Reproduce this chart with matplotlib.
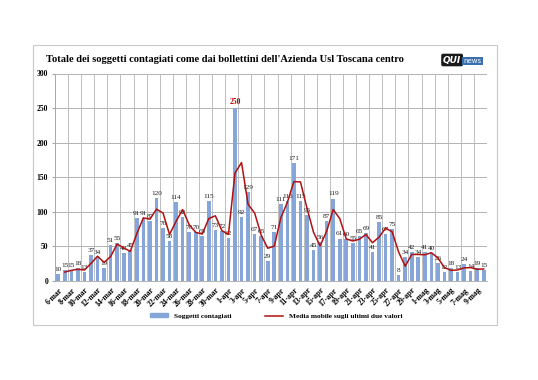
#!/usr/bin/env python3
# -*- coding: utf-8 -*-

import numpy as np
import matplotlib
matplotlib.use('Agg')
from matplotlib import pyplot as plt
from matplotlib.patches import Rectangle
from matplotlib.lines import Line2D

# daily new cases, 6-mar .. 10-mag
cases = [10, 15, 15, 18, 13, 37, 34, 19, 51, 55,
         40, 45, 91, 91, 87, 120, 76, 58, 114, 92,
         70, 70, 65, 115, 73, 72, 62, 250, 92, 129,
         67, 65, 29, 71, 111, 116, 171, 115, 95, 45,
         56, 87, 119, 61, 60, 55, 65, 69, 41, 85,
         67, 75, 8, 34, 42, 34, 41, 40, 26, 12,
         18, 13, 24, 14, 19, 15]

tick_labels = ['6-mar', '8-mar', '10-mar', '12-mar', '14-mar', '16-mar', '18-mar',
               '20-mar', '22-mar', '24-mar', '26-mar', '28-mar', '30-mar',
               '1-apr', '3-apr', '5-apr', '7-apr', '9-apr', '11-apr', '13-apr',
               '15-apr', '17-apr', '19-apr', '21-apr', '23-apr', '25-apr',
               '27-apr', '29-apr', '1-mag', '3-mag', '5-mag', '7-mag', '9-mag']

title = "Totale dei soggetti contagiati come dai bollettini dell'Azienda Usl Toscana centro"

serif = 'Liberation Serif'
bar_color = '#86A6DA'
line_color = '#B01010'
grid_color = '#A6A6A6'

vals = np.array(cases, dtype=float)
x = np.arange(len(vals))
# trendline: moving average over the last two values
ma = (vals[1:] + vals[:-1]) / 2.0

fig = plt.figure(figsize=(5.38, 3.80), dpi=100)

# outer chart frame
fig.patches.append(Rectangle((33 / 538, 1 - 325 / 380), 464 / 538, 280 / 380,
                             transform=fig.transFigure, fill=False,
                             edgecolor='#C8C8C8', linewidth=0.8))

ax = fig.add_axes([55 / 538, 1 - 280.7 / 380, 432 / 538, 207.2 / 380])

ax.bar(x, vals, width=0.55, color=bar_color, zorder=2)
ax.plot(x[1:], ma, color=line_color, linewidth=1.1, zorder=4)

for xi, v in zip(x, cases):
    if v == max(cases):
        ax.text(xi, v + 3, str(v), ha='center', va='bottom', fontsize=5.5,
                family=serif, fontweight='bold', color='#C00000', zorder=3)
    else:
        ax.text(xi, v + 3, str(v), ha='center', va='bottom', fontsize=5.2,
                family=serif, color='#202020', zorder=3)

ax.set_xlim(-0.5, len(vals) - 0.5)
ax.set_ylim(0, 300)
ax.set_yticks(range(0, 301, 50))
ax.set_yticklabels([str(t) for t in range(0, 301, 50)], family=serif,
                   fontweight='bold', fontsize=5.5)

ax.set_xticks(x[::2])
ax.set_xticklabels(tick_labels, rotation=45, ha='right', va='top',
                   rotation_mode='anchor', family=serif, fontweight='bold',
                   fontsize=5.6)
ax.tick_params(axis='x', length=0, pad=4)
ax.tick_params(axis='y', length=2, pad=3, color=grid_color)

# gridlines
for yv in range(50, 301, 50):
    ax.axhline(yv, color=grid_color, linewidth=0.6, zorder=1)
for xb in np.arange(-0.5, len(vals), 2):
    ax.axvline(xb, color='#B4B4B4', linewidth=0.6, zorder=1)

for s in ['top', 'right']:
    ax.spines[s].set_visible(False)
ax.spines['left'].set_color(grid_color)
ax.spines['bottom'].set_color(grid_color)
ax.spines['left'].set_linewidth(0.6)
ax.spines['bottom'].set_linewidth(0.6)

fig.text(46 / 538, 1 - 60 / 380, title, family=serif, fontweight='bold',
         fontsize=7.6, va='center', ha='left')

# logo
fig.text(443 / 538, 1 - 60 / 380, 'QUI', family='DejaVu Sans', fontweight='bold',
         fontsize=6.5, color='white', va='center', ha='left', style='italic',
         bbox=dict(boxstyle='round,pad=0.2', fc='#1A1A1A', ec='none'))
fig.text(463 / 538, 1 - 61 / 380, 'news', family='DejaVu Sans', fontsize=5,
         color='white', va='center', ha='left',
         bbox=dict(boxstyle='square,pad=0.2', fc='#3A6FB0', ec='none'))

handles = [Rectangle((0, 0), 1, 1, color=bar_color),
           Line2D([0], [0], color=line_color, linewidth=1.1)]
fig.legend(handles, ['Soggetti contagiati', 'Media mobile sugli ultimi due valori'],
           loc='center', bbox_to_anchor=(276 / 538, 1 - 316 / 380), ncol=2,
           frameon=False, prop={'family': serif, 'weight': 'bold', 'size': 5.3},
           handlelength=2.5, handleheight=0.5, columnspacing=4.5)

fig.savefig('out.png', dpi=100, facecolor='white')
